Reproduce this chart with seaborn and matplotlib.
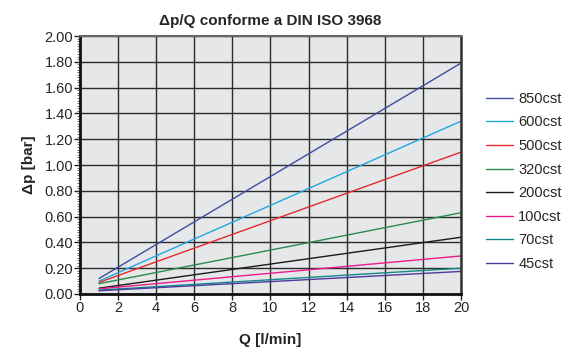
import numpy as np
import matplotlib
matplotlib.use("Agg")
import matplotlib.pyplot as plt
from matplotlib.ticker import MultipleLocator, AutoMinorLocator, FormatStrFormatter
import seaborn as sns
import pandas as pd

# data (straight lines from Q=1 to Q=20)
viscosities = ['850cst', '600cst', '500cst', '320cst', '200cst', '100cst', '70cst', '45cst']
q_points = [1, 20]
dp_850 = [0.12, 1.79]
dp_600 = [0.10, 1.34]
dp_500 = [0.09, 1.10]
dp_320 = [0.08, 0.63]
dp_200 = [0.045, 0.44]
dp_100 = [0.04, 0.295]
dp_70 = [0.03, 0.20]
dp_45 = [0.025, 0.175]
colors = ['#3a4ea3', '#1fa8e0', '#e42a2f', '#2a8a4e', '#1a1a1a', '#ec1b8c', '#12898a', '#4b3b9e']

series = [dp_850, dp_600, dp_500, dp_320, dp_200, dp_100, dp_70, dp_45]
rows = []
for name, vals in zip(viscosities, series):
    for q, v in zip(q_points, vals):
        rows.append({'Q': q, 'dp': v, 'oil': name})
df = pd.DataFrame(rows)

sns.set_style("white")
plt.rcParams['font.family'] = ['Liberation Sans', 'DejaVu Sans']

fig = plt.figure(figsize=(5.66, 3.49), dpi=100)
ax = fig.add_axes([0.1413, 0.1576, 0.8145 - 0.1413, 0.8968 - 0.1576])
ax.set_facecolor('#e6e7e8')

sns.lineplot(data=df, x='Q', y='dp', hue='oil', hue_order=viscosities,
             palette=dict(zip(viscosities, colors)), linewidth=1.0, ax=ax)

ax.set_xlim(0, 20)
ax.set_ylim(0, 2.0)
ax.xaxis.set_major_locator(MultipleLocator(2))
ax.yaxis.set_major_locator(MultipleLocator(0.2))
ax.yaxis.set_minor_locator(AutoMinorLocator(10))
ax.yaxis.set_major_formatter(FormatStrFormatter('%.2f'))
ax.grid(True, which='major', color='#2b2b2b', linewidth=1.0)
ax.set_axisbelow(True)

ax.tick_params(axis='both', which='major', direction='out', length=4, width=1,
               labelsize=10.5, pad=1, color='#222222', left=True, bottom=True)
ax.tick_params(axis='y', which='minor', direction='out', length=2, width=0.6,
               color='#555555', left=True)

for side in ['left', 'bottom']:
    ax.spines[side].set_color('#111111')
    ax.spines[side].set_linewidth(2.0)
ax.spines['right'].set_color('#333333')
ax.spines['right'].set_linewidth(1.8)
ax.spines['top'].set_color('#666666')
ax.spines['top'].set_linewidth(1.5)

bold_font = ['Liberation Sans Narrow', 'Liberation Sans', 'DejaVu Sans']
ax.set_title('Δp/Q conforme a DIN ISO 3968', fontsize=11, fontweight='bold',
             family=bold_font, pad=8)
ax.set_xlabel('Q [l/min]', fontsize=11, fontweight='bold', family=bold_font, labelpad=13)
ax.set_ylabel('Δp [bar]', fontsize=11, fontweight='bold', family=bold_font, labelpad=6)

handles, labels = ax.get_legend_handles_labels()
ax.legend(handles, labels, loc='upper left', bbox_to_anchor=(0.845, 0.758),
          bbox_transform=fig.transFigure, frameon=False, fontsize=10.5,
          handlelength=1.9, handletextpad=0.35, labelspacing=0.66, borderpad=0)

plt.savefig('out.png', dpi=100)
